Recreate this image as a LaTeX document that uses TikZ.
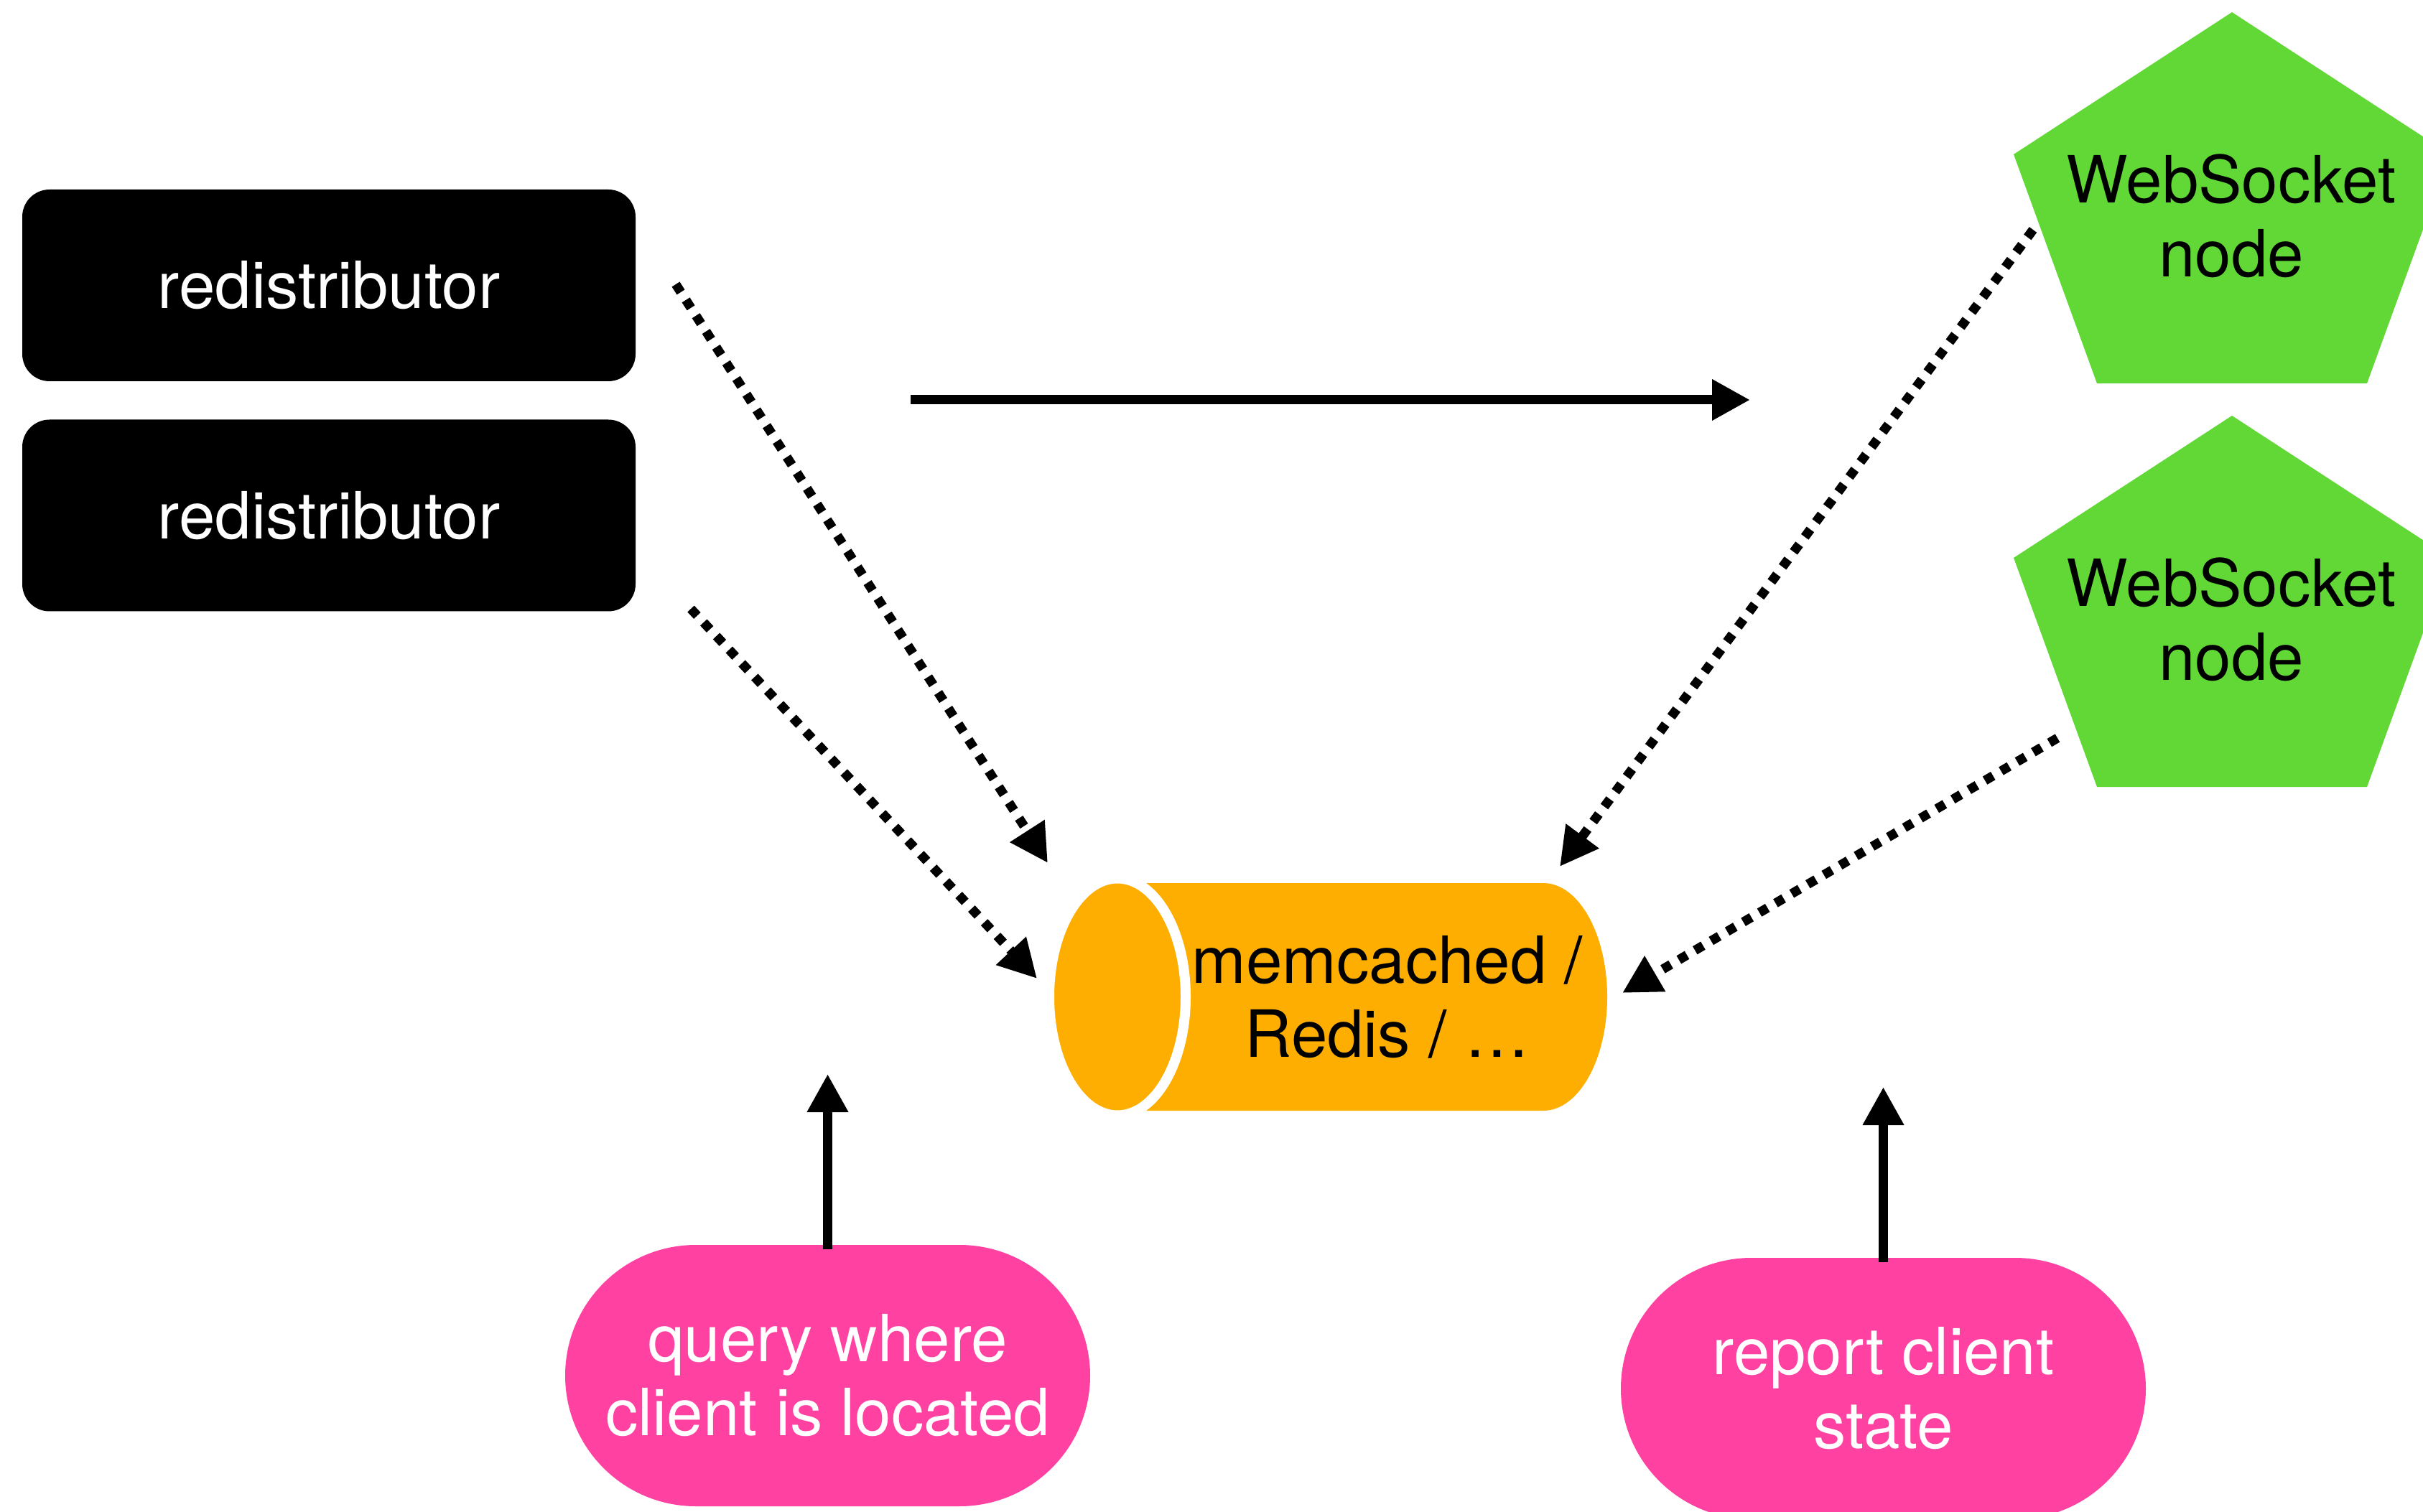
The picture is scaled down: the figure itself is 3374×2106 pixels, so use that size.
\documentclass[tikz,border=0pt]{standalone}
\usepackage{fontspec}
\setmainfont{TeX Gyre Heros}
\usetikzlibrary{arrows.meta,shapes.misc}
\definecolor{wsgreen}{RGB}{97,216,54}
\definecolor{dborange}{RGB}{254,174,0}
\definecolor{pillpink}{RGB}{255,66,161}
\begin{document}
\begin{tikzpicture}[x=0.1mm,y=-0.1mm,
  lbl/.style={font=\fontsize{25.8}{29.3}\selectfont, align=center, inner sep=0pt},
  redbox/.style={lbl, fill=black, text=white, rounded corners=3.8mm, minimum width=85.4mm, minimum height=26.7mm},
  pill/.style={lbl, rounded rectangle, fill=pillpink, text=white, minimum width=73.1mm, minimum height=36.4mm},
  flow/.style={line width=1.3mm, -{Triangle[length=5.3mm,width=5.4mm]}},
  dotflow/.style={flow, dash pattern=on 1.3mm off 1.3mm},
  wsshape/.style={fill=wsgreen},
]
\useasboundingbox (0,0) rectangle (3374,2106);
\clip (0,0) rectangle (3374,2106);
\fill[white] (0,0) rectangle (3374,2106);

% redistributors
\node[redbox] (r1) at (458,397.5) {redistributor};
\node[redbox] (r2) at (458,718) {redistributor};

% WebSocket nodes (flattened pentagons)
\fill[wsshape] (3108,17) -- (3412,215) -- (3296,534) -- (2920,534) -- (2804,215) -- cycle;
\node[lbl] (ws1) at (3107,301) {WebSocket\\node};
\fill[wsshape] (3108,579) -- (3412,777) -- (3296,1096) -- (2920,1096) -- (2804,777) -- cycle;
\node[lbl] (ws2) at (3107,863) {WebSocket\\node};

% memcached / Redis cylinder
\fill[dborange] (1556,1230) -- (2149,1230)
  arc[start angle=90, end angle=-90, x radius=8.9mm, y radius=15.85mm]
  -- (1556,1547) -- cycle;
\draw[white, line width=1.4mm, fill=dborange] (1556,1388.5) ellipse [x radius=9.5mm, y radius=16.5mm];
\node[lbl] (db) at (1932,1389) {memcached /\\Redis / …};

% pills
\node[pill] (q) at (1152.5,1916) {query where\\client is located};
\node[pill] (rep) at (2622.5,1934) {report client\\state};

% free ends of connectors
\coordinate (h1) at (1268,557);
\coordinate (h2) at (2437,557);
\coordinate (d1s) at (941,396);
\coordinate (d1e) at (1459,1202);
\coordinate (d2s) at (962,848);
\coordinate (d2e) at (1444,1363);
\coordinate (d3s) at (2831,320);
\coordinate (d3e) at (2172,1207);
\coordinate (d4s) at (2865,1028);
\coordinate (d4e) at (2259,1383);
\coordinate (qt) at (1152.5,1496);
\coordinate (rt) at (2622.5,1514);

% connectors
\draw[flow] (h1) -- (h2);
\draw[dotflow] (d1s) -- (d1e);
\draw[dotflow] (d2s) -- (d2e);
\draw[dotflow] (d3s) -- (d3e);
\draw[dotflow] (d4s) -- (d4e);
\draw[flow] ([yshift=-0.7mm]q.north) -- (qt);
\draw[flow] ([yshift=-0.7mm]rep.north) -- (rt);
\end{tikzpicture}
\end{document}
